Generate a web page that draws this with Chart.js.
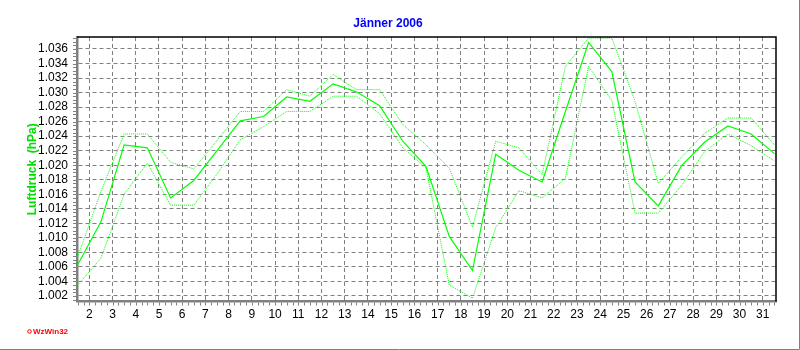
<!DOCTYPE html>
<html>
<head>
<meta charset="utf-8">
<script src="https://cdn.jsdelivr.net/npm/chart.js@4"></script>
<style>
  html, body { margin: 0; padding: 0; background: #ffffff; }
  #wrap { width: 800px; height: 350px; }
</style>
</head>
<body>
<div id="wrap"><canvas id="luftdruck" width="800" height="350"></canvas></div>
<script>
// Tagesmitte-Positionen (Messwerte jeweils zwischen den Tagesmarken)
const tage = [1.5, 2.5, 3.5, 4.5, 5.5, 6.5, 7.5, 8.5, 9.5, 10.5, 11.5, 12.5, 13.5, 14.5, 15.5, 16.5,
  17.5, 18.5, 19.5, 20.5, 21.5, 22.5, 23.5, 24.5, 25.5, 26.5, 27.5, 28.5, 29.5, 30.5, 31.5];

const mittel = [1.0063, 1.0122, 1.0228, 1.0224, 1.0155, 1.0179, 1.0220, 1.0261, 1.0267, 1.0294, 1.0288,
  1.0312, 1.0301, 1.0282, 1.0233, 1.0198, 1.0102, 1.0055, 1.0215, 1.0193, 1.0177, 1.0274,
  1.0369, 1.0329, 1.0177, 1.0144, 1.0199, 1.0232, 1.0254, 1.0243, 1.0216];

const maximum = [1.0074, 1.0164, 1.0243, 1.0243, 1.0204, 1.0195, 1.0234, 1.0274, 1.0274, 1.0304, 1.0295,
  1.0325, 1.0304, 1.0304, 1.0256, 1.0228, 1.0196, 1.0115, 1.0233, 1.0224, 1.0187, 1.0336,
  1.0375, 1.0375, 1.0288, 1.0175, 1.0211, 1.0244, 1.0265, 1.0265, 1.0228];

const minimum = [1.0035, 1.0072, 1.0160, 1.0203, 1.0145, 1.0145, 1.0188, 1.0235, 1.0253, 1.0274, 1.0274,
  1.0295, 1.0295, 1.0271, 1.0224, 1.0196, 1.0035, 1.0017, 1.0114, 1.0165, 1.0155, 1.0182,
  1.0336, 1.0289, 1.0134, 1.0134, 1.0172, 1.0219, 1.0243, 1.0227, 1.0206];

const xTicks = [2, 3, 4, 5, 6, 7, 8, 9, 10, 11, 12, 13, 14, 15, 16, 17, 18, 19, 20, 21, 22, 23, 24,
  25, 26, 27, 28, 29, 30, 31];
const yTicks = [1.002, 1.004, 1.006, 1.008, 1.010, 1.012, 1.014, 1.016, 1.018, 1.020, 1.022, 1.024,
  1.026, 1.028, 1.030, 1.032, 1.034, 1.036];

const FONT = 'Liberation Sans, Arial, sans-serif';
const GRUEN = '#00ff00';

function punkte(werte) {
  return tage.map((t, i) => ({ x: t, y: werte[i] }));
}

// kleine Zwischenstriche, Rahmen und Logo
const rahmenPlugin = {
  id: 'rahmen',
  beforeDatasetsDraw(chart) {
    const { ctx, chartArea: a, scales: { x, y } } = chart;
    ctx.save();
    ctx.strokeStyle = '#808080';
    ctx.lineWidth = 1;
    ctx.beginPath();
    for (let v = 1.5; v <= 31.5; v += 0.25) {
      const px = Math.round(x.getPixelForValue(v)) + 0.5;
      ctx.moveTo(px, a.bottom + 1);
      ctx.lineTo(px, a.bottom + 4);
    }
    for (let v = 1.0015; v <= 1.0376; v += 0.0005) {
      const py = Math.round(y.getPixelForValue(v)) + 0.5;
      ctx.moveTo(a.left - 4, py);
      ctx.lineTo(a.left - 1, py);
    }
    ctx.stroke();
    ctx.restore();
  },
  afterDraw(chart) {
    const { ctx, chartArea: a } = chart;
    ctx.save();
    // schwarzer Rahmen oben und rechts
    ctx.strokeStyle = '#000000';
    ctx.lineWidth = 1.5;
    ctx.beginPath();
    ctx.moveTo(a.left, a.top);
    ctx.lineTo(a.right, a.top);
    ctx.lineTo(a.right, a.bottom);
    ctx.stroke();
    // grauer Fensterrand
    ctx.strokeStyle = '#808080';
    ctx.lineWidth = 1;
    ctx.beginPath();
    ctx.moveTo(0, 349.5);
    ctx.lineTo(799.5, 349.5);
    ctx.lineTo(799.5, 0);
    ctx.stroke();
    // WzWin32
    ctx.strokeStyle = '#ff0000';
    ctx.beginPath();
    ctx.arc(29.5, 331.5, 1.8, 0, Math.PI * 2);
    ctx.stroke();
    ctx.fillStyle = '#ff0000';
    ctx.font = 'bold 8px ' + FONT;
    ctx.textBaseline = 'middle';
    ctx.fillText('WzWin32', 33, 332);
    ctx.restore();
  }
};

const ctx = document.getElementById('luftdruck').getContext('2d');
new Chart(ctx, {
  type: 'line',
  data: {
    datasets: [
      { label: 'Maximum', data: punkte(maximum), borderColor: GRUEN, borderWidth: 1, borderDash: [1, 1] },
      { label: 'Minimum', data: punkte(minimum), borderColor: GRUEN, borderWidth: 1, borderDash: [1, 1] },
      { label: 'Mittel', data: punkte(mittel), borderColor: GRUEN, borderWidth: 1.2 }
    ]
  },
  options: {
    responsive: false,
    animation: false,
    parsing: false,
    elements: { point: { radius: 0 }, line: { tension: 0 } },
    layout: { padding: { left: 0, right: 24, top: 0, bottom: 0 } },
    plugins: {
      legend: { display: false },
      tooltip: { enabled: false },
      title: {
        display: true,
        text: 'Jänner 2006',
        color: '#0000ff',
        font: { family: FONT, size: 12, weight: 'bold' },
        padding: { top: 16, bottom: 6.6 }
      }
    },
    scales: {
      x: {
        type: 'linear',
        min: 1.47,
        max: 31.57,
        afterBuildTicks: (s) => { s.ticks = xTicks.map(v => ({ value: v })); },
        afterFit: (s) => { s.height = 48.5; },
        ticks: {
          color: '#000000',
          font: { family: FONT, size: 12 },
          padding: 6,
          maxRotation: 0,
          autoSkip: false,
          callback: (v) => String(v)
        },
        grid: { color: '#808080', lineWidth: 1, drawTicks: false },
        border: { display: true, color: '#808080', width: 2.5, dash: [4, 3] }
      },
      y: {
        min: 1.00124,
        max: 1.03765,
        afterBuildTicks: (s) => { s.ticks = yTicks.map(v => ({ value: v })); },
        afterFit: (s) => { s.width = 77; },
        ticks: {
          color: '#000000',
          font: { family: FONT, size: 12 },
          padding: 9,
          autoSkip: false,
          callback: (v) => Number(v).toFixed(3)
        },
        grid: { color: '#808080', lineWidth: 1, drawTicks: false },
        border: { display: true, color: '#808080', width: 2.5, dash: [4, 3] },
        title: {
          display: true,
          text: 'Luftdruck  (hPa)',
          color: '#00e000',
          font: { family: FONT, size: 12, weight: 'bold' },
          padding: { top: 25, bottom: 0 }
        }
      }
    }
  },
  plugins: [rahmenPlugin]
});
</script>
</body>
</html>
